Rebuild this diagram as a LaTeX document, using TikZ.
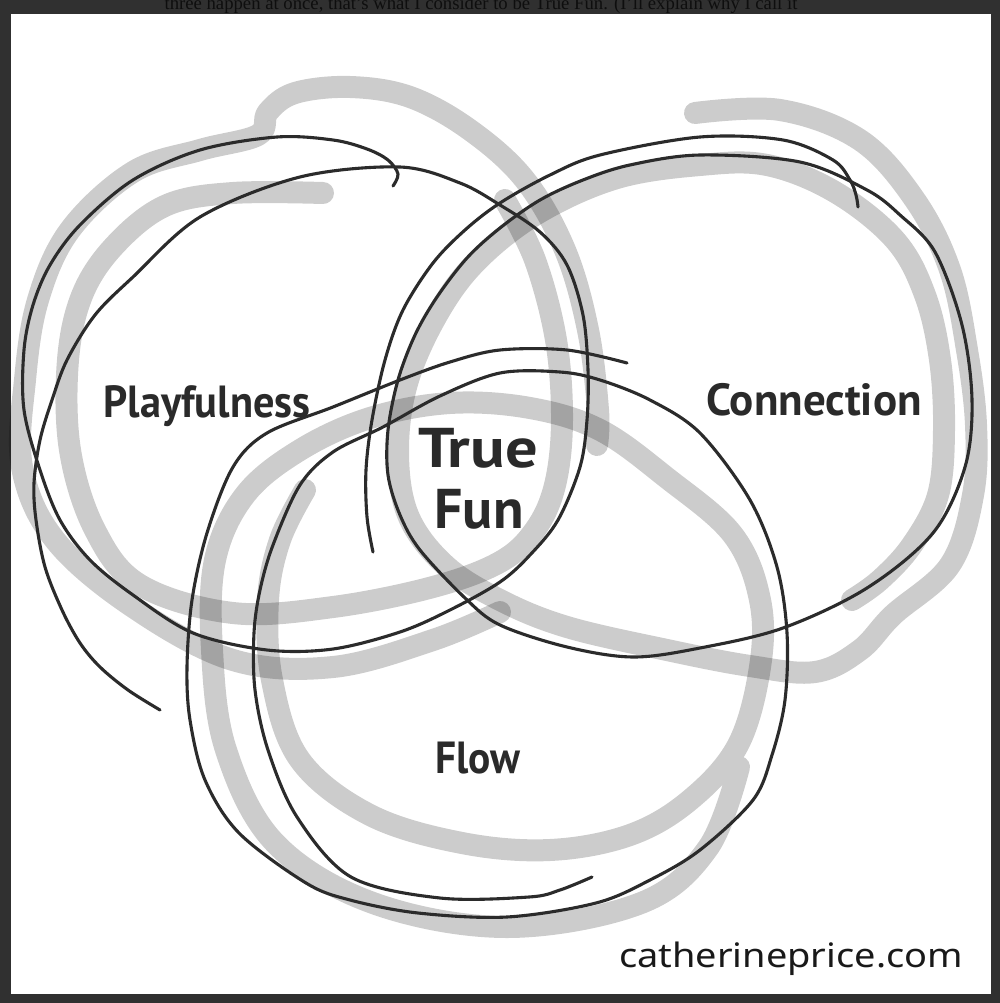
\documentclass[tikz,border=0pt]{standalone}
\usepackage{fontspec}
\newfontfamily\labfont{PT Sans}
\newfontfamily\webfont{Noto Sans}
\newfontfamily\serfont{Liberation Serif}
\definecolor{framebg}{HTML}{303030}
\definecolor{pencil}{HTML}{2B2B2B}
\definecolor{inkdark}{HTML}{2A2A2A}
\definecolor{toptext}{HTML}{0E0E0E}
\tikzset{
  greyband/.style={draw=black, draw opacity=0.2, line width=22pt, line cap=round, line join=round},
  pencilline/.style={draw=pencil, line width=3.1pt, line cap=round, line join=round},
  labeltext/.style={font=\labfont\bfseries\fontsize{45}{50}\selectfont, text=inkdark, inner sep=0pt, anchor=base},
  funtext/.style={font=\labfont\bfseries\fontsize{56}{60}\selectfont, text=inkdark, inner sep=0pt, anchor=base},
}
\begin{document}
\begin{tikzpicture}[x=1pt,y=-1pt]
\useasboundingbox (0,0) rectangle (1000,1003);
\fill[framebg] (0,0) rectangle (1000,1003);
\node[font=\serfont\fontsize{18.7}{20}\selectfont, text=toptext, inner sep=0pt, anchor=base] (toptxt) at (481,10) {three happen at once, that’s what I consider to be True Fun. (I’ll explain why I call it};
\fill[white] (11,14) rectangle (991,994);

% grey bands
\draw[greyband] plot[smooth, tension=0.6] coordinates {(500,612) (433,640) (333,667) (233,660) (133,607) (55,540) (22,467) (25,380) (38,300) (70,230) (133,172) (200,150) (258,135) (268,112) (295,93) (350,87) (410,97) (470,130) (525,180) (565,250) (588,330) (598,410) (597,445)};
\draw[greyband] plot[smooth, tension=0.6] coordinates {(323,193) (233,193) (167,205) (117,243) (83,293) (68,360) (70,450) (95,530) (140,585) (233,613) (333,607) (433,587) (500,562) (535,530) (555,485) (562,420) (556,340) (535,260) (505,200)};
\draw[greyband] plot[smooth, tension=0.6] coordinates {(695,113) (780,110) (860,140) (915,200) (950,270) (967,350) (976,425) (973,495) (950,565) (893,615) (860,650) (815,672) (750,666) (667,650) (567,627) (500,600) (445,565) (408,515) (398,450) (408,380) (440,310) (480,258) (540,212) (617,178) (700,165) (767,165) (835,192) (895,240) (925,295) (940,360) (944,430) (938,495) (912,545) (880,580) (852,600)};
\draw[greyband] plot[smooth, tension=0.6] coordinates {(739,767) (708,848) (641,903) (507,927) (373,903) (275,843) (226,750) (212,650) (215,560) (245,495) (300,450) (370,418) (450,403) (530,408) (600,430) (667,478) (733,535) (760,600) (760,667) (738,745) (690,800) (630,835) (550,850) (462,843) (370,815) (300,760) (272,680) (268,600) (280,540) (305,490)};

% pencil lines
\draw[pencilline] plot[smooth, tension=0.55] coordinates {(160,710) (128,690) (100,667) (80,643) (62,610) (45,567) (36,520) (34,483) (40,440) (52,400) (67,360) (95,315) (133,277) (200,217) (300,177) (400,167) (460,183) (500,205) (540,232) (567,265) (583,315) (588,370) (587,420) (580,467) (558,520) (530,555) (500,582) (450,610) (400,632) (333,649) (267,650) (193,633) (133,595) (90,560) (60,520) (40,470) (24,410) (24,350) (33,305) (50,265) (80,225) (133,180) (200,150) (277,137) (333,140) (367,149) (388,160) (398,174) (393,186)};
\draw[pencilline] plot[smooth, tension=0.55] coordinates {(373,552) (367,517) (366,470) (372,420) (385,360) (403,310) (433,263) (465,230) (500,203) (550,175) (600,155) (700,137) (783,140) (833,160) (850,180) (856,195) (858,207)};
\draw[pencilline] plot[smooth cycle, tension=0.55] coordinates {(500,228) (467,258) (437,297) (415,335) (398,380) (388,430) (388,475) (400,515) (420,550) (465,598) (500,625) (567,647) (633,657) (700,648) (783,628) (867,588) (933,533) (965,467) (972,400) (962,325) (935,252) (900,215) (867,190) (800,162) (700,155) (630,165) (583,180) (540,200)};
\draw[pencilline] plot[smooth, tension=0.55] coordinates {(592,877) (560,890) (529,897) (440,898) (351,877) (297,817) (268,750) (255,690) (254,633) (260,590) (273,545) (300,485) (333,452) (383,427) (440,396) (500,373) (560,372) (600,380) (650,400) (700,433) (750,500) (777,567) (787,633) (785,700) (772,755) (753,800) (700,850) (650,880) (596,903) (507,917) (418,913) (350,900) (306,883) (239,833) (205,780) (190,720) (187,667) (192,600) (207,533) (233,467) (267,433) (333,407) (400,380) (450,362) (500,350) (567,350) (627,363)};

% labels
\node[labeltext] (play) at (207,417) {\scalebox{0.94}[1]{Playfulness}};
\node[labeltext] (conn) at (814,415) {Connection};
\node[labeltext] (flow) at (478,773) {\scalebox{0.92}[1]{Flow}};
\node[funtext] (true) at (478,467) {\scalebox{1.15}[1]{True}};
\node[funtext] (fun) at (479,528) {Fun};
\node[font=\webfont\fontsize{33.6}{36}\selectfont, text=black!90, inner sep=0pt, anchor=base] (site) at (791,967) {\scalebox{1.13}[1]{catherineprice.com}};
\end{tikzpicture}
\end{document}
